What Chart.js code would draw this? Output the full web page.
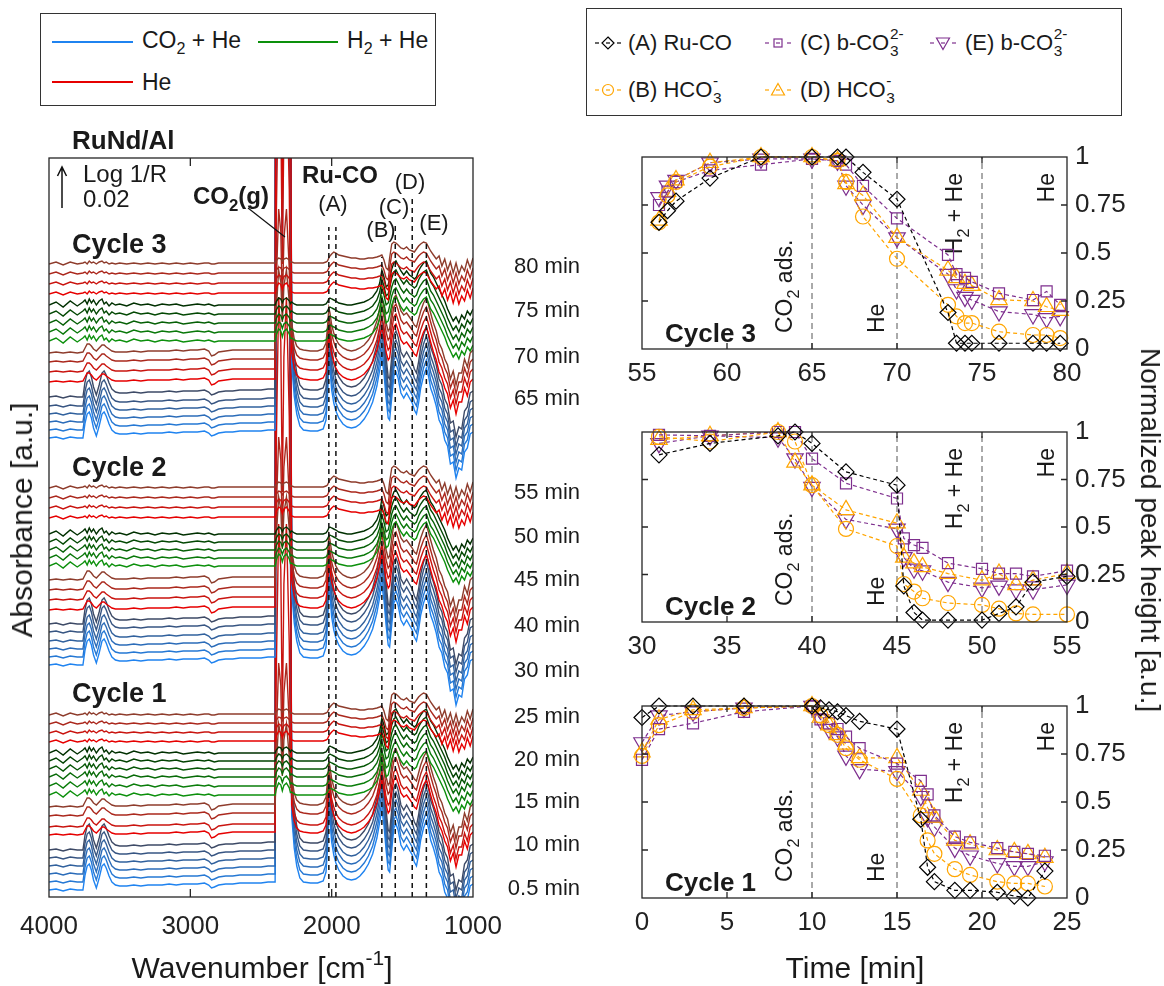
<!DOCTYPE html>
<html>
<head>
<meta charset="utf-8"/>
<title>RuNd/Al - CO2 / H2 cycles</title>
<script src="https://cdn.jsdelivr.net/npm/chart.js"></script>
<style>
html, body { margin:0; padding:0; background:#fff; }
body { font-family:"Liberation Sans", Arial, Helvetica, sans-serif; color:#1a1a1a; }
#page { position:relative; width:1164px; height:986px; overflow:hidden; }
canvas { position:absolute; }
.box { position:absolute; border:1.3px solid #333; box-sizing:border-box; }
.ln { position:absolute; height:1.6px; }
.t { position:absolute; white-space:nowrap; line-height:1; }
.t sub { font-size:0.7em; vertical-align:-0.35em; line-height:0; }
.t sup { font-size:0.7em; vertical-align:0.6em; line-height:0; }
.ss { display:inline-block; position:relative; font-size:0.7em; width:1.05em; height:1em; }
.ss.n { width:0.6em; }
.ss .up { position:absolute; left:0.05em; top:-0.55em; }
.ss .dn { position:absolute; left:0.05em; top:0.55em; }
.ttl { position:absolute; white-space:nowrap; line-height:1; transform:translate(-50%,-50%); }
.icon { position:absolute; }
</style>
</head>
<body>
<div id="page">
  <!-- left legend -->
  <div class="box" style="left:40px;top:13px;width:396px;height:93px"></div>
  <div class="ln" style="left:52px;top:41px;width:81px;background:#1f83f0"></div>
  <div class="t" style="left:142px;top:29px;font-size:23px">CO<sub>2</sub> + He</div>
  <div class="ln" style="left:258px;top:41px;width:80px;background:#0c900c"></div>
  <div class="t" style="left:347px;top:29px;font-size:23px">H<sub>2</sub> + He</div>
  <div class="ln" style="left:52px;top:81px;width:81px;background:#e60000"></div>
  <div class="t" style="left:142px;top:71px;font-size:23px">He</div>

  <!-- right legend -->
  <div class="box" style="left:586px;top:8px;width:536px;height:108px"></div>
  <div id="icons"></div>
  <div class="t" style="left:628px;top:32px;font-size:22px">(A) Ru-CO</div>
  <div class="t" style="left:800px;top:32px;font-size:22px">(C) b-CO<span class="ss"><span class="up">2-</span><span class="dn">3</span></span></div>
  <div class="t" style="left:965px;top:32px;font-size:22px">(E) b-CO<span class="ss"><span class="up">2-</span><span class="dn">3</span></span></div>
  <div class="t" style="left:628px;top:79px;font-size:22px">(B) HCO<span class="ss n"><span class="up">-</span><span class="dn">3</span></span></div>
  <div class="t" style="left:800px;top:79px;font-size:22px">(D) HCO<span class="ss n"><span class="up">-</span><span class="dn">3</span></span></div>

  <canvas id="spec" width="600" height="866" style="left:0;top:120px"></canvas>
  <canvas id="cyc3" width="564" height="260" style="left:600px;top:130px"></canvas>
  <canvas id="cyc2" width="564" height="260" style="left:600px;top:405px"></canvas>
  <canvas id="cyc1" width="564" height="307" style="left:600px;top:679px"></canvas>

  <div class="ttl" style="left:22px;top:520px;font-size:30px;transform:translate(-50%,-50%) rotate(-90deg)">Absorbance [a.u.]</div>
  <div class="ttl" style="left:262px;top:968px;font-size:30px">Wavenumber [cm<sup style="font-size:0.7em;vertical-align:0.6em;line-height:0">-1</sup>]</div>
  <div class="ttl" style="left:855px;top:968px;font-size:30px">Time [min]</div>
  <div class="ttl" style="left:1150px;top:530px;font-size:28px;transform:translate(-50%,-50%) rotate(90deg)">Normalized peak height [a.u.]</div>
</div>

<script>
const FF = '"Liberation Sans", Arial, Helvetica, sans-serif';

// ---------- spectra (left panel), a.u. ----------
const wavenumber = [
  4000, 3950, 3900, 3850, 3800, 3760, 3745, 3730, 3715, 3700,
  3685, 3665, 3645, 3625, 3610, 3595, 3575, 3555, 3530, 3500,
  3450, 3400, 3350, 3300, 3250, 3200, 3150, 3100, 3050, 3000,
  2950, 2900, 2870, 2850, 2830, 2800, 2750, 2700, 2650, 2600,
  2550, 2500, 2450, 2400, 2392, 2375, 2360, 2349, 2338, 2320,
  2300, 2292, 2283, 2265, 2247, 2225, 2200, 2150, 2100, 2060,
  2040, 2030, 2020, 2012, 2000, 1985, 1970, 1950, 1920, 1890,
  1860, 1830, 1800, 1770, 1740, 1710, 1680, 1660, 1645, 1630,
  1615, 1600, 1590, 1575, 1560, 1545, 1530, 1510, 1490, 1470,
  1450, 1430, 1415, 1400, 1385, 1370, 1350, 1330, 1315, 1300,
  1280, 1260, 1240, 1220, 1200, 1180, 1160, 1140, 1120, 1100,
  1080, 1060, 1040, 1020, 1000
];
// CO2(g) band profile (P/R branches)
const gasProfile = [
  0, 0, 0, 0, 0, 0, 0, 0, 0, 0,
  0, 0, 0, 0, 0, 0, 0, 0, 0, 0,
  0, 0, 0, 0, 0, 0, 0, 0, 0, 0,
  0, 0, 0, 0, 0, 0, 0, 0, 0, 0,
  0, 0, 0, 0, 0.5, 1, 0.85, 0.35, 0.8, 1,
  0.6, 0.2, 0, 0, 0, 0, 0, 0, 0, 0,
  0, 0, 0, 0, 0, 0, 0, 0, 0, 0,
  0, 0, 0, 0, 0, 0, 0, 0, 0, 0,
  0, 0, 0, 0, 0, 0, 0, 0, 0, 0,
  0, 0, 0, 0, 0, 0, 0, 0, 0, 0,
  0, 0, 0, 0, 0, 0, 0, 0, 0, 0,
  0, 0, 0, 0, 0
];
// spectrum shape during CO2 + He
const shapeCo2 = [
  0, 1, -1, 1, 0, 0, 15, 24, 26, 20,
  10, 2, 12, 24, 26, 22, 14, 8, 5, 4,
  4, 5, 4, 5, 5, 5, 6, 5, 6, 6,
  6, 7, 5, 2, 3, 5, 6, 6, 7, 7,
  7, 7, 8, 8, 8, 8, 8, 8, 8, 8,
  8, 8, 75, 42, 24, 12, 8, 7, 7, 9,
  18, 40, 75, 70, 48, 35, 27, 20, 14, 11,
  10, 11, 14, 19, 26, 36, 52, 68, 80, 65,
  40, 20, 18, 40, 62, 66, 60, 45, 40, 45,
  40, 35, 28, 24, 35, 50, 62, 70, 62, 50,
  42, 32, 18, 12, -2, -8, -26, -24, -40, -30,
  -32, -14, -10, 4, 6
];
// He purge after CO2
const shapeHe = [
  0, 1, 0, 1, 0, 1, 5, 9, 9, 7,
  4, 2, 5, 8, 8, 6, 4, 2, 1, 1,
  1, 2, 1, 2, 2, 2, 2, 3, 2, 3,
  3, 4, 2, -3, -2, 1, 2, 3, 3, 3,
  3, 3, 3, 3, 3, 3, 3, 3, 3, 3,
  3, 3, 30, 14, 7, 4, 3, 2, 2, 4,
  10, 25, 45, 40, 28, 20, 14, 9, 5, 3,
  2, 3, 5, 8, 13, 20, 32, 45, 55, 45,
  30, 22, 24, 42, 55, 58, 52, 42, 38, 40,
  36, 32, 28, 26, 34, 42, 50, 55, 48, 40,
  30, 22, 10, 4, -6, -12, -26, -18, -32, -20,
  -20, -6, -14, 0, 3
];
// H2 + He
const shapeH2 = [
  0, 3, -2, 4, -1, 3, 5, 1, 6, 2,
  5, 0, 4, 6, 1, 3, -1, 2, 0, 1,
  -1, 2, 0, 1, -1, 1, 0, 1, -1, 0,
  1, 0, 1, 0, -1, 0, 0, 0, 0, 0,
  0, 0, 0, 0, 0, 0, 0, 0, 0, 0,
  0, 0, 3, 1, 0, 0, 0, 0, 0, 0,
  1, 3, 6, 7, 6, 5, 4, 2, 1, 0,
  0, 1, 2, 3, 5, 8, 14, 22, 35, 28,
  18, 20, 26, 36, 42, 44, 40, 34, 30, 34,
  30, 28, 26, 28, 34, 38, 42, 44, 38, 32,
  28, 22, 16, 10, 4, -4, -10, -16, -12, -18,
  -10, -14, -6, -10, -4
];
// final He purge
const shapePurge = [
  0, 2, -1, 2, 0, 1, 2, 0, 3, 1,
  2, 0, 2, 3, 1, 2, 0, 1, 0, 1,
  0, 1, 0, 1, 0, 1, 0, 1, 0, 1,
  0, 1, 1, 0, 0, 1, 1, 1, 1, 1,
  1, 1, 1, 1, 1, 1, 1, 1, 1, 1,
  1, 1, 2, 1, 1, 1, 1, 1, 1, 1,
  2, 3, 6, 8, 10, 12, 11, 9, 8, 7,
  6, 6, 5, 5, 6, 6, 7, 8, 9, 4,
  -4, -6, 6, 20, 22, 21, 19, 16, 15, 17,
  14, 13, 12, 15, 18, 20, 22, 21, 17, 13,
  9, 5, 8, -2, 5, -6, 2, -9, 1, -10,
  -2, -7, 4, -4, 6
];
// CO2(g) band height of each spectrum in a step
const gasCo2 = [1800, 1800, 1800, 1800, 1800, 1800];
const gasHe = [1800, 300, 150, 80];
const gasH2 = [12, 10, 9, 8, 7, 6];
const gasPurge = [10, 8, 6, 5];

// vertical offsets of the stacked spectra
const c1Co2 = [7, 15, 23, 31, 39, 47];
const c1He = [62, 70, 81, 90];
const c1H2 = [102, 111, 120, 128, 136, 144];
const c1Purge = [155, 164, 173, 182];
const c2Co2 = [232, 240, 248, 256, 265, 273];
const c2He = [287, 297, 307, 317];
const c2H2 = [331, 339, 347, 355, 363];
const c2Purge = [379, 389, 399, 409];
const c3Co2 = [459, 467, 475, 483, 491, 500];
const c3He = [515, 525, 535, 544];
const c3H2 = [556, 565, 574, 583, 592];
const c3Purge = [603, 613, 623, 633];

const timeLabels = ['80 min', '75 min', '70 min', '65 min', '55 min', '50 min', '45 min',
                    '40 min', '30 min', '25 min', '20 min', '15 min', '10 min', '0.5 min'];
const timeLabelLevel = [632, 588, 542, 500, 406, 362, 319, 273, 228, 182, 139, 97, 54, 10];

const bandWn = [2020, 1970, 1645, 1550, 1430, 1330];
const bandTop = [670, 670, 640, 674, 700, 654];

// ---------- peak heights (right panels) ----------
const c1Time = [0, 1, 3, 6, 10, 10.5, 11, 11.5, 12, 12.8, 15, 16.4, 16.8, 17.2, 18.4, 19.3, 20.9, 21.9, 22.7, 23.7];
const c1A = [0.94, 1.0, 1.0, 1.0, 1.0, 0.99, 0.98, 0.97, 0.95, 0.92, 0.88, 0.41, 0.16, 0.085, 0.04, 0.04, 0.03, 0.01, 0.0, 0.14];
const c1B = [0.74, 0.90, 0.97, 0.99, 1.0, 0.95, 0.90, 0.85, 0.78, 0.72, 0.62, 0.43, 0.30, 0.23, 0.15, 0.12, 0.085, 0.076, 0.076, 0.06];
const c1C = [0.72, 0.88, 0.91, 0.97, 1.0, 0.93, 0.91, 0.88, 0.84, 0.78, 0.70, 0.61, 0.54, 0.43, 0.32, 0.29, 0.26, 0.24, 0.23, 0.22];
const c1D = [0.76, 0.93, 0.98, 0.99, 1.0, 0.94, 0.90, 0.85, 0.80, 0.73, 0.73, 0.56, 0.47, 0.42, 0.30, 0.28, 0.25, 0.24, 0.23, 0.21];
const c1E = [0.81, 0.95, 0.97, 0.99, 1.0, 0.93, 0.88, 0.84, 0.74, 0.67, 0.66, 0.53, 0.42, 0.37, 0.26, 0.22, 0.18, 0.165, 0.165, 0.19];

const c2Time = [31, 34, 38, 39, 40, 42, 45, 45.4, 46, 46.5, 48, 50, 51, 52, 53, 55];
const c2A = [0.88, 0.94, 0.98, 1.0, 0.94, 0.79, 0.72, 0.19, 0.05, 0.01, 0.01, 0.01, 0.045, 0.08, 0.21, 0.24];
const c2B = [0.975, 0.95, 1.0, 0.95, 0.72, 0.49, 0.40, 0.20, 0.16, 0.125, 0.10, 0.09, 0.07, 0.045, 0.04, 0.04];
const c2C = [0.985, 0.98, 1.0, 1.0, 0.86, 0.73, 0.65, 0.44, 0.405, 0.39, 0.31, 0.28, 0.255, 0.255, 0.24, 0.27];
const c2D = [0.96, 0.98, 1.0, 0.84, 0.72, 0.59, 0.52, 0.34, 0.31, 0.29, 0.255, 0.22, 0.255, 0.195, 0.22, 0.255];
const c2E = [0.94, 0.98, 0.97, 0.86, 0.71, 0.54, 0.49, 0.34, 0.28, 0.27, 0.21, 0.18, 0.19, 0.17, 0.17, 0.195];

const c3Time = [56, 56.5, 57, 59, 62, 65, 66.5, 67, 68, 70, 73, 73.5, 74, 74.4, 76, 78, 78.8, 79.6];
const c3A = [0.66, 0.72, 0.77, 0.89, 1.0, 1.0, 1.0, 1.0, 0.92, 0.78, 0.19, 0.03, 0.03, 0.03, 0.03, 0.03, 0.03, 0.03];
const c3B = [0.66, 0.80, 0.87, 0.95, 1.0, 1.0, 0.98, 0.87, 0.69, 0.47, 0.23, 0.17, 0.135, 0.135, 0.09, 0.073, 0.073, 0.057];
const c3C = [0.75, 0.82, 0.87, 0.93, 0.96, 0.99, 0.98, 0.96, 0.85, 0.68, 0.49, 0.39, 0.37, 0.35, 0.29, 0.255, 0.30, 0.23];
const c3D = [0.67, 0.82, 0.88, 0.97, 1.0, 1.0, 0.98, 0.86, 0.80, 0.58, 0.41, 0.37, 0.34, 0.33, 0.256, 0.25, 0.22, 0.20];
const c3E = [0.79, 0.85, 0.88, 0.97, 0.99, 0.99, 0.98, 0.85, 0.75, 0.58, 0.39, 0.31, 0.27, 0.255, 0.195, 0.18, 0.16, 0.17];

const c1Steps = [10, 15, 20];
const c2Steps = [40, 45, 50];
const c3Steps = [65, 70, 75];
const heightTicks = [0, 0.25, 0.5, 0.75, 1];

// ---------- helpers ----------
function hex(c) { return [1, 3, 5].map(i => parseInt(c.substr(i, 2), 16)); }
function mix(a, b, f) {
  const p = hex(a), q = hex(b);
  return 'rgb(' + p.map((v, i) => Math.round(v + (q[i] - v) * f)).join(',') + ')';
}
// parts: [text, level] with level 0 normal, -1 subscript, 1 superscript
function rich(ctx, parts, x, y, o) {
  const fs = o.size, wt = o.bold ? 'bold ' : '';
  ctx.save();
  ctx.translate(x, y);
  if (o.rot) ctx.rotate(o.rot);
  ctx.fillStyle = o.color || '#1a1a1a';
  ctx.textBaseline = 'alphabetic';
  ctx.textAlign = 'left';
  let w = 0;
  const ws = parts.map(p => {
    ctx.font = wt + (p[1] ? fs * 0.7 : fs) + 'px ' + FF;
    const m = ctx.measureText(p[0]).width; w += m; return m;
  });
  let cx = o.align === 'center' ? -w / 2 : o.align === 'right' ? -w : 0;
  const base = fs * 0.36;
  parts.forEach((p, i) => {
    ctx.font = wt + (p[1] ? fs * 0.7 : fs) + 'px ' + FF;
    const dy = p[1] < 0 ? fs * 0.3 : p[1] > 0 ? -fs * 0.45 : 0;
    ctx.fillText(p[0], cx, base + dy);
    cx += ws[i];
  });
  ctx.restore();
}

// ---------- left: stacked spectra ----------
const spectra = [];
function addStep(offsets, shape, gas, c0, c1) {
  offsets.forEach((off, i) => {
    const f = offsets.length > 1 ? i / (offsets.length - 1) : 0;
    spectra.push({
      data: wavenumber.map((w, j) => ({ x: w, y: off + shape[j] + gas[i] * gasProfile[j] })),
      borderColor: mix(c0, c1, f),
      borderWidth: 1.4,
      pointRadius: 0,
      fill: false,
      tension: 0,
      order: -spectra.length
    });
  });
}
const BLUE0 = '#1f83f0', BLUE1 = '#3d4a66';
const RED0 = '#e60000', RED1 = '#8e3c2c';
const GREEN0 = '#0c900c', GREEN1 = '#003000';
[[c1Co2, c1He, c1H2, c1Purge], [c2Co2, c2He, c2H2, c2Purge], [c3Co2, c3He, c3H2, c3Purge]].forEach(c => {
  addStep(c[0], shapeCo2, gasCo2, BLUE0, BLUE1);
  addStep(c[1], shapeHe, gasHe, RED0, RED1);
  addStep(c[2], shapeH2, gasH2, GREEN0, GREEN1);
  addStep(c[3], shapePurge, gasPurge, RED0, RED1);
});

const specDeco = {
  id: 'specDeco',
  afterDatasetsDraw(chart) {
    const { ctx, chartArea: a, scales: { x, y } } = chart;
    ctx.save();
    ctx.strokeStyle = '#111'; ctx.lineWidth = 1.5; ctx.setLineDash([5, 4]);
    bandWn.forEach((w, i) => {
      const px = x.getPixelForValue(w);
      ctx.beginPath(); ctx.moveTo(px, a.bottom); ctx.lineTo(px, y.getPixelForValue(bandTop[i])); ctx.stroke();
    });
    ctx.setLineDash([]);
    ctx.strokeStyle = '#262626'; ctx.lineWidth = 1.3;
    ctx.strokeRect(a.left, a.top, a.right - a.left, a.bottom - a.top);
    [2000, 3000].forEach(v => {
      const px = x.getPixelForValue(v);
      ctx.beginPath();
      ctx.moveTo(px, a.bottom); ctx.lineTo(px, a.bottom - 8);
      ctx.moveTo(px, a.top); ctx.lineTo(px, a.top + 8);
      ctx.stroke();
    });
    // scale bar arrow
    ctx.strokeStyle = '#111'; ctx.lineWidth = 1.5;
    ctx.beginPath(); ctx.moveTo(62, 88); ctx.lineTo(62, 47);
    ctx.moveTo(57.5, 56); ctx.lineTo(62, 47); ctx.lineTo(66.5, 56); ctx.stroke();
    // CO2(g) pointer
    ctx.lineWidth = 1.2;
    ctx.beginPath(); ctx.moveTo(248, 88); ctx.lineTo(285, 117); ctx.stroke();
    ctx.restore();

    rich(ctx, [['RuNd/Al', 0]], 72, 20, { size: 26, bold: true });
    rich(ctx, [['Log 1/R', 0]], 83, 53, { size: 24 });
    rich(ctx, [['0.02', 0]], 83, 78, { size: 24 });
    rich(ctx, [['CO', 0], ['2', -1], ['(g)', 0]], 193, 75, { size: 24, bold: true });
    rich(ctx, [['Ru-CO', 0]], 302, 54, { size: 24, bold: true });
    rich(ctx, [['(A)', 0]], 333, 83, { size: 22, align: 'center' });
    rich(ctx, [['(B)', 0]], 381, 109, { size: 22, align: 'center' });
    rich(ctx, [['(C)', 0]], 394, 86, { size: 22, align: 'center' });
    rich(ctx, [['(D)', 0]], 410, 61, { size: 22, align: 'center' });
    rich(ctx, [['(E)', 0]], 434, 102, { size: 22, align: 'center' });
    rich(ctx, [['Cycle 3', 0]], 72, 123, { size: 27, bold: true });
    rich(ctx, [['Cycle 2', 0]], 72, 346, { size: 27, bold: true });
    rich(ctx, [['Cycle 1', 0]], 72, 572, { size: 27, bold: true });
    timeLabels.forEach((t, i) => rich(ctx, [[t, 0]], 580, y.getPixelForValue(timeLabelLevel[i]), { size: 22, align: 'right' }));
  }
};

new Chart(document.getElementById('spec'), {
  type: 'line',
  data: { datasets: spectra },
  options: {
    responsive: false, animation: false, events: [],
    layout: { autoPadding: false, padding: { left: 49, top: 38, right: 127, bottom: 0 } },
    plugins: { legend: { display: false }, tooltip: { enabled: false } },
    scales: {
      x: {
        type: 'linear', reverse: true, min: 1000, max: 4000,
        grid: { display: false, drawTicks: false }, border: { display: false },
        ticks: { stepSize: 1000, padding: 14, maxRotation: 0, color: '#222', font: { size: 26, family: FF },
                 callback: v => String(v) },
        afterFit(s) { s.height = 89; }
      },
      y: { display: false, min: 0, max: 739 }
    }
  },
  plugins: [specDeco]
});

// ---------- right: normalized peak heights ----------
const ORANGE = '#FFA500', PURPLE = '#7E2F8E';
const seriesStyle = [
  { color: '#000', shape: 'rectRot', r: 8, rot: 0 },
  { color: ORANGE, shape: 'circle', r: 7.5, rot: 0 },
  { color: PURPLE, shape: 'rect', r: 7.8, rot: 0 },
  { color: ORANGE, shape: 'triangle', r: 9.5, rot: 0 },
  { color: PURPLE, shape: 'triangle', r: 9.5, rot: 180 }
];

function panel(id, time, values, xmin, xmax, steps, name, xh) {
  const deco = {
    id: 'deco' + id,
    beforeDatasetsDraw(chart) {
      const { ctx, chartArea: a, scales: { x } } = chart;
      ctx.save();
      ctx.strokeStyle = '#555'; ctx.lineWidth = 1; ctx.setLineDash([6, 4]);
      steps.forEach(s => {
        const px = x.getPixelForValue(s);
        ctx.beginPath(); ctx.moveTo(px, a.bottom); ctx.lineTo(px, a.top); ctx.stroke();
      });
      ctx.restore();
      const R = -Math.PI / 2;
      rich(ctx, [['CO', 0], ['2', -1], [' ads.', 0]], x.getPixelForValue(steps[0]) - 28, a.bottom - 16, { size: 23, rot: R });
      rich(ctx, [['He', 0]], x.getPixelForValue(steps[1]) - 21, a.bottom - 16, { size: 23, rot: R });
      rich(ctx, [['H', 0], ['2', -1], [' + He', 0]], x.getPixelForValue(steps[2]) - 28, a.top + 16, { size: 23, rot: R, align: 'right' });
      rich(ctx, [['He', 0]], a.right - 21, a.top + 16, { size: 23, rot: R, align: 'right' });
      rich(ctx, [[name, 0]], a.left + 23, a.bottom - 16, { size: 26, bold: true });
    },
    afterDatasetsDraw(chart) {
      const { ctx, chartArea: a, scales: { x, y } } = chart;
      ctx.save();
      ctx.strokeStyle = '#262626'; ctx.lineWidth = 1.3;
      ctx.strokeRect(a.left, a.top, a.right - a.left, a.bottom - a.top);
      ctx.beginPath();
      for (let v = xmin + 5; v < xmax; v += 5) {
        const px = x.getPixelForValue(v);
        ctx.moveTo(px, a.bottom); ctx.lineTo(px, a.bottom - 6);
        ctx.moveTo(px, a.top); ctx.lineTo(px, a.top + 6);
      }
      [0.25, 0.5, 0.75].forEach(v => {
        const py = y.getPixelForValue(v);
        ctx.moveTo(a.left, py); ctx.lineTo(a.left + 6, py);
        ctx.moveTo(a.right, py); ctx.lineTo(a.right - 6, py);
      });
      ctx.stroke();
      ctx.restore();
    }
  };
  new Chart(document.getElementById(id), {
    type: 'line',
    data: {
      datasets: values.map((v, k) => {
        const s = seriesStyle[k];
        return {
          data: time.map((t, i) => ({ x: t, y: v[i] })),
          borderColor: s.color, borderWidth: 1.2, borderDash: [4, 3],
          pointStyle: s.shape, pointRadius: s.r, pointRotation: s.rot,
          pointBorderColor: s.color, pointBackgroundColor: 'rgba(0,0,0,0)', pointBorderWidth: 1.2,
          fill: false, tension: 0, clip: false
        };
      })
    },
    options: {
      responsive: false, animation: false, events: [],
      layout: { autoPadding: false, padding: { left: 42, top: 27, right: 0, bottom: 0 } },
      plugins: { legend: { display: false }, tooltip: { enabled: false } },
      scales: {
        x: {
          type: 'linear', min: xmin, max: xmax,
          grid: { display: false, drawTicks: false }, border: { display: false },
          ticks: { stepSize: 5, padding: 9, maxRotation: 0, color: '#222', font: { size: 26, family: FF } },
          afterFit(s) { s.height = xh; }
        },
        y: {
          position: 'right', min: 0, max: 1,
          grid: { display: false, drawTicks: false }, border: { display: false },
          afterBuildTicks(s) { s.ticks = heightTicks.map(v => ({ value: v })); },
          ticks: { padding: 8, color: '#222', font: { size: 26, family: FF }, callback: v => String(v) },
          afterFit(s) { s.width = 97; }
        }
      }
    },
    plugins: [deco]
  });
}

panel('cyc3', c3Time, [c3A, c3B, c3C, c3D, c3E], 55, 80, c3Steps, 'Cycle 3', 41);
panel('cyc2', c2Time, [c2A, c2B, c2C, c2D, c2E], 30, 55, c2Steps, 'Cycle 2', 43);
panel('cyc1', c1Time, [c1A, c1B, c1C, c1D, c1E], 0, 25, c1Steps, 'Cycle 1', 88);

// legend marker icons
const iconPos = [[595, 33], [595, 80], [765, 33], [765, 80], [930, 33]];
const iconShape = [
  '<polygon points="13,4 19,10 13,16 7,10"/>',
  '<circle cx="13" cy="10" r="5.5"/>',
  '<rect x="9" y="6" width="8" height="8"/>',
  '<polygon points="13,3.5 19.5,15 6.5,15"/>',
  '<polygon points="13,16.5 19.5,5 6.5,5"/>'
];
const iconOrder = [0, 1, 2, 3, 4];
document.getElementById('icons').innerHTML = iconOrder.map(k => {
  const s = seriesStyle[k];
  return '<svg class="icon" width="26" height="20" style="left:' + iconPos[k][0] + 'px;top:' + iconPos[k][1] + 'px">' +
    '<g stroke="' + s.color + '" stroke-width="1.2"><line x1="0" y1="10" x2="4" y2="10"/><line x1="22" y1="10" x2="26" y2="10"/>' +
    '<line x1="11" y1="10" x2="15" y2="10"/></g>' +
    '<g fill="none" stroke="' + s.color + '" stroke-width="1.2">' + iconShape[k] + '</g></svg>';
}).join('');
</script>
</body>
</html>
